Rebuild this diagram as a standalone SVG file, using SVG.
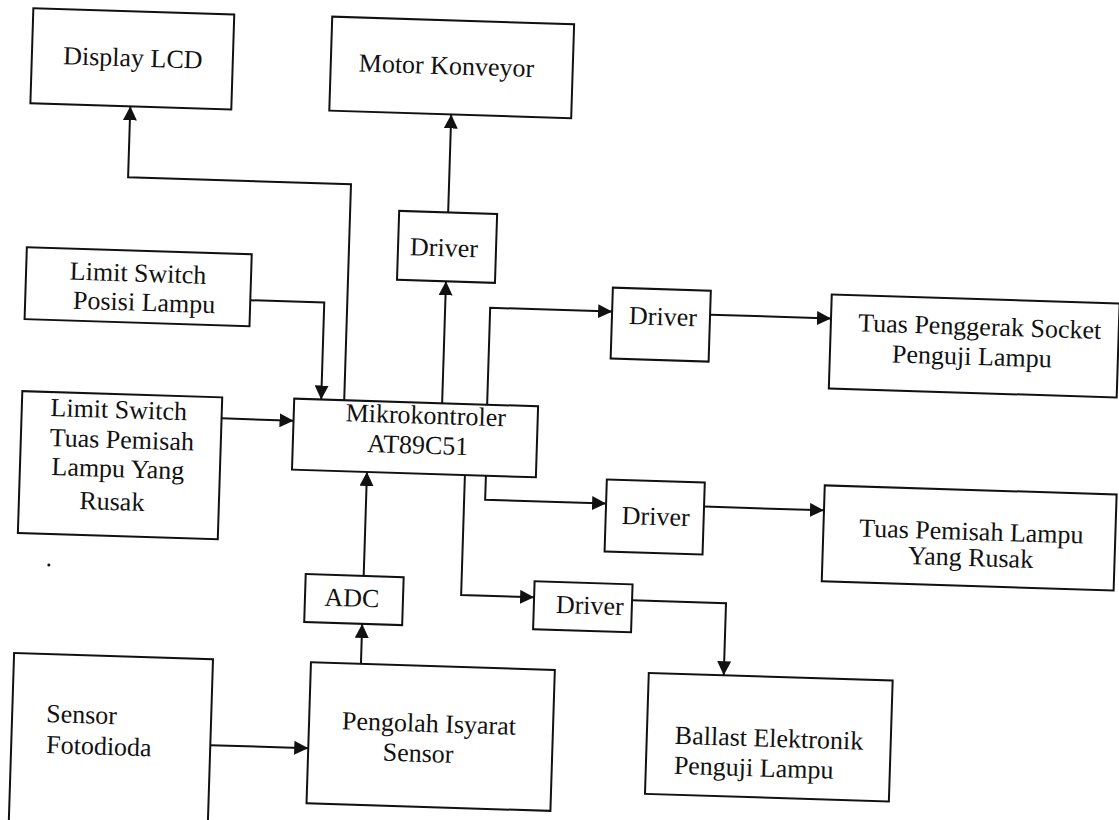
<svg xmlns="http://www.w3.org/2000/svg" width="1119" height="820" viewBox="0 0 1119 820">
<style>
.box{fill:none;stroke:#111;stroke-width:2}
.ln{fill:none;stroke:#111;stroke-width:2}
text{font-family:"Liberation Serif","Times New Roman",serif;font-size:26px;fill:#111}
.m{text-anchor:middle}
</style>
<defs>
<marker id="ah" viewBox="0 0 14 14" refX="14" refY="7" markerWidth="14" markerHeight="14" markerUnits="userSpaceOnUse" orient="auto">
<path d="M0,0 L14,7 L0,14 Z" fill="#111"/>
</marker>
</defs>
<rect width="1119" height="820" fill="#fff"/>
<g transform="rotate(1.8 560 410)">
<g id="lcd"><rect class="box" x="21" y="25" width="201" height="95"/><text class="m" x="122" y="80">Display LCD</text></g>
<g id="motor"><rect class="box" x="320" y="24" width="242" height="94"/><text x="348" y="78">Motor Konveyor</text></g>
<g id="driver1"><rect class="box" x="393" y="216" width="98" height="69"/><text class="m" x="439" y="260">Driver</text></g>
<g id="ls1"><rect class="box" x="22" y="264" width="225" height="72"/><text class="m" x="134" y="295">Limit Switch</text><text class="m" x="141" y="324">Posisi Lampu</text></g>
<g id="mcu"><rect class="box" x="294" y="407" width="244" height="71"/><text class="m" x="426" y="428">Mikrokontroler</text><text class="m" x="419" y="458">AT89C51</text></g>
<g id="ls2"><rect class="box" x="22" y="408" width="200" height="142"/><text class="m" x="119" y="432">Limit Switch</text><text class="m" x="123" y="462">Tuas Pemisah</text><text class="m" x="120" y="491">Lampu Yang</text><text class="m" x="115" y="524">Rusak</text></g>
<g id="driver2"><rect class="box" x="609" y="286" width="98" height="71"/><text class="m" x="660" y="322">Driver</text></g>
<g id="tuas1"><rect class="box" x="828" y="286" width="288" height="94"/><text class="m" x="977" y="322">Tuas Penggerak Socket</text><text class="m" x="970" y="352">Penguji Lampu</text></g>
<g id="driver3"><rect class="box" x="609" y="478" width="98" height="72"/><text class="m" x="659" y="522">Driver</text></g>
<g id="tuas2"><rect class="box" x="827" y="477" width="292" height="96"/><text class="m" x="975" y="527">Tuas Pemisah Lampu</text><text class="m" x="975" y="553">Yang Rusak</text></g>
<g id="adc"><rect class="box" x="311" y="582" width="98" height="48"/><text class="m" x="358" y="613">ADC</text></g>
<g id="driver4"><rect class="box" x="540" y="582" width="98" height="48"/><text class="m" x="596" y="613">Driver</text></g>
<g id="sensor"><rect class="box" x="22" y="670" width="199" height="180"/><text x="56" y="738">Sensor</text><text x="57" y="769">Fotodioda</text></g>
<g id="pengolah"><rect class="box" x="319" y="670" width="244" height="141"/><text class="m" x="439" y="736">Pengolah Isyarat</text><text class="m" x="429" y="766">Sensor</text></g>
<g id="ballast"><rect class="box" x="657" y="670" width="244" height="121"/><text x="685" y="740">Ballast Elektronik</text><text x="685" y="770">Penguji Lampu</text></g>
<g id="connectors">
<path class="ln" marker-end="url(#ah)" d="M344,407 V191 H121 V120"/>
<path class="ln" marker-end="url(#ah)" d="M442,407 V285"/>
<path class="ln" marker-end="url(#ah)" d="M442,216 V118"/>
<path class="ln" marker-end="url(#ah)" d="M247,310 H321 V407"/>
<path class="ln" marker-end="url(#ah)" d="M222,429 H294"/>
<path class="ln" marker-end="url(#ah)" d="M369,582 V478"/>
<path class="ln" marker-end="url(#ah)" d="M369,670 V630"/>
<path class="ln" marker-end="url(#ah)" d="M221,756 H319"/>
<path class="ln" marker-end="url(#ah)" d="M487,407 V310 H609"/>
<path class="ln" marker-end="url(#ah)" d="M707,310 H828"/>
<path class="ln" marker-end="url(#ah)" d="M488,478 V502 H609"/>
<path class="ln" marker-end="url(#ah)" d="M707,502 H827"/>
<path class="ln" marker-end="url(#ah)" d="M467,478 V598 H540"/>
<path class="ln" marker-end="url(#ah)" d="M638,598 H732 V670"/>
</g>
<circle cx="54" cy="581" r="1.5" fill="#111"/>
</g>
</svg>
